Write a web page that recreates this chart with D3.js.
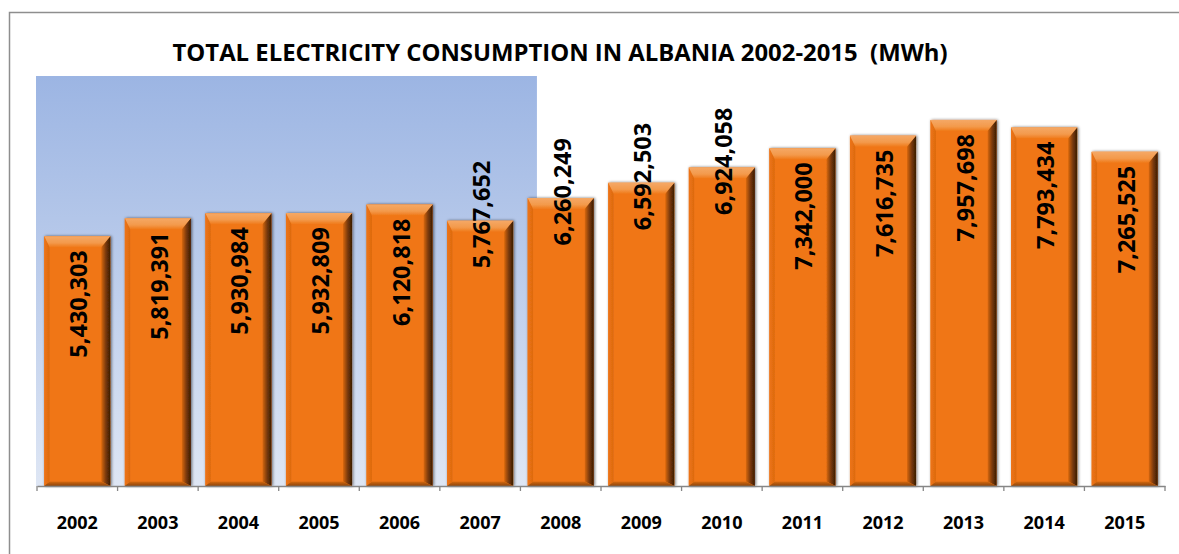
<!DOCTYPE html>
<html lang="en">
<head>
<meta charset="UTF-8">
<title>Total electricity consumption in Albania</title>
<script src="https://d3js.org/d3.v7.min.js"></script>
<style>
  html, body { margin: 0; padding: 0; background: #fff; }
  svg { display: block; font-family: "Open Sans", "Noto Sans", sans-serif; }
  .title { white-space: pre; }
</style>
</head>
<body>
<svg id="chart" width="1179" height="554"></svg>
<script>
// data
const years = ["2002", "2003", "2004", "2005", "2006", "2007", "2008",
               "2009", "2010", "2011", "2012", "2013", "2014", "2015"];
const consumption = [5430303, 5819391, 5930984, 5932809, 6120818, 5767652, 6260249,
                     6592503, 6924058, 7342000, 7616735, 7957698, 7793434, 7265525];
// labels that were dragged above their bars in the original
const raisedLabels = ["2007", "2008", "2009", "2010"];
const yMax = 9000000;

const width = 1179, height = 554;
const svg = d3.select("#chart");
const defs = svg.append("defs");

// frame
svg.append("rect")
  .attr("x", 9.5).attr("y", 12.5)
  .attr("width", width + 20).attr("height", height + 20)
  .attr("fill", "#fff")
  .attr("stroke", "#8e8e8e").attr("stroke-width", 1.5);

const x = d3.scaleBand()
  .domain(years)
  .range([37, 1165])
  .paddingInner(0.18)
  .paddingOuter(0.09);

const y = d3.scaleLinear()
  .domain([0, yMax])
  .range([486, 72]);

// blue backdrop behind the first years
const bg = defs.append("linearGradient").attr("id", "bgGrad")
  .attr("x1", 0).attr("y1", 0).attr("x2", 0).attr("y2", 1);
bg.append("stop").attr("offset", "0%").attr("stop-color", "#9cb5e3");
bg.append("stop").attr("offset", "100%").attr("stop-color", "#dee6f4");

svg.append("rect")
  .attr("x", 36).attr("y", 76)
  .attr("width", x("2008") + x.bandwidth() * 0.14 - 36)
  .attr("height", y(0) - 76)
  .attr("fill", "url(#bgGrad)");

// title
svg.append("text")
  .attr("class", "title")
  .attr("x", 560).attr("y", 61)
  .attr("text-anchor", "middle")
  .attr("font-size", 23.5)
  .attr("font-weight", 700)
  .attr("textLength", 775)
  .attr("lengthAdjust", "spacingAndGlyphs")
  .attr("fill", "#000")
  .text("TOTAL ELECTRICITY CONSUMPTION IN ALBANIA 2002-2015  (MWh)");

// bar styling
const shadow = defs.append("filter").attr("id", "shadow")
  .attr("x", "-20%").attr("y", "-20%").attr("width", "140%").attr("height", "140%");
shadow.append("feGaussianBlur").attr("in", "SourceAlpha").attr("stdDeviation", 1.6);
shadow.append("feOffset").attr("dx", 1).attr("dy", 0).attr("result", "blur");
shadow.append("feComponentTransfer").append("feFuncA").attr("type", "linear").attr("slope", 0.55);
const merge = shadow.append("feMerge");
merge.append("feMergeNode");
merge.append("feMergeNode").attr("in", "SourceGraphic");

function grad(id, x2, y2, stops) {
  const g = defs.append("linearGradient").attr("id", id)
    .attr("x1", 0).attr("y1", 0).attr("x2", x2).attr("y2", y2);
  stops.forEach(s => g.append("stop").attr("offset", s[0]).attr("stop-color", s[1]));
}
grad("topBevel", 0, 1, [["0%", "#f5a865"], ["60%", "#f39a4c"], ["100%", "#f07a1a"]]);
grad("rightBevel", 1, 0, [["0%", "#d8680e"], ["50%", "#7a3a08"], ["100%", "#3a1c05"]]);
grad("bottomBevel", 0, 1, [["0%", "#d66a12"], ["100%", "#8a4409"]]);
grad("leftBevel", 1, 0, [["0%", "#ee7414"], ["100%", "#dc6a10"]]);

const bv = 9; // bevel size in px
const bars = svg.selectAll(".bar")
  .data(years.map((yr, i) => ({ year: yr, value: consumption[i] })))
  .join("g")
  .attr("class", "bar")
  .attr("filter", "url(#shadow)");

bars.append("rect")
  .attr("x", d => x(d.year))
  .attr("y", d => y(d.value))
  .attr("width", x.bandwidth())
  .attr("height", d => y(0) - y(d.value))
  .attr("fill", "#f07616");

bars.append("polygon")
  .attr("points", d => {
    const x0 = x(d.year), x1 = x0 + x.bandwidth(), t = y(d.value), b = y(0);
    return [[x1, t], [x1, b], [x1 - bv, b - bv * 0.5], [x1 - bv, t + bv]].join(" ");
  })
  .attr("fill", "url(#rightBevel)");

bars.append("polygon")
  .attr("points", d => {
    const x0 = x(d.year), x1 = x0 + x.bandwidth(), t = y(d.value), b = y(0);
    return [[x0, t], [x0 + bv * 0.6, t + bv], [x0 + bv * 0.6, b - bv * 0.5], [x0, b]].join(" ");
  })
  .attr("fill", "url(#leftBevel)");

bars.append("polygon")
  .attr("points", d => {
    const x0 = x(d.year), x1 = x0 + x.bandwidth(), b = y(0);
    return [[x0, b], [x0 + bv * 0.6, b - bv * 0.5], [x1 - bv, b - bv * 0.5], [x1, b]].join(" ");
  })
  .attr("fill", "url(#bottomBevel)");

bars.append("polygon")
  .attr("points", d => {
    const x0 = x(d.year), x1 = x0 + x.bandwidth(), t = y(d.value);
    return [[x0, t], [x1, t], [x1 - bv, t + bv + 2], [x0 + bv * 0.6, t + bv + 2]].join(" ");
  })
  .attr("fill", "url(#topBevel)");

// value labels, rotated
const fmt = d3.format(",");
svg.selectAll(".val")
  .data(years.map((yr, i) => ({ year: yr, value: consumption[i] })))
  .join("text")
  .attr("class", "val")
  .attr("transform", d => {
    const cx = x(d.year) + x.bandwidth() / 2 + 1;
    const top = y(d.value) + (raisedLabels.includes(d.year) ? -60 : 14);
    return `translate(${cx},${top}) rotate(-90)`;
  })
  .attr("text-anchor", "end")
  .attr("dominant-baseline", "central")
  .attr("font-size", 23.5)
  .attr("font-weight", 700)
  .attr("fill", "#000")
  .text(d => fmt(d.value));

// category axis
const axis = svg.append("g")
  .attr("transform", `translate(0,${y(0)})`)
  .call(d3.axisBottom(x).tickSize(0).tickPadding(30));
axis.select(".domain").attr("stroke", "#868686").attr("stroke-width", 1.3);
axis.selectAll(".tick text")
  .attr("font-size", 18)
  .attr("font-weight", 700)
  .attr("font-family", "'Open Sans', sans-serif")
  .attr("fill", "#000");

// tick marks between categories
const bounds = years.map(yr => x(yr) - x.step() * x.paddingInner() / 2);
bounds[0] = x.range()[0];
bounds.push(x.range()[1]);
axis.selectAll(".sep")
  .data(bounds)
  .join("line")
  .attr("class", "sep")
  .attr("x1", d => d).attr("x2", d => d)
  .attr("y1", 0).attr("y2", 5)
  .attr("stroke", "#868686").attr("stroke-width", 1.3);
</script>
</body>
</html>
